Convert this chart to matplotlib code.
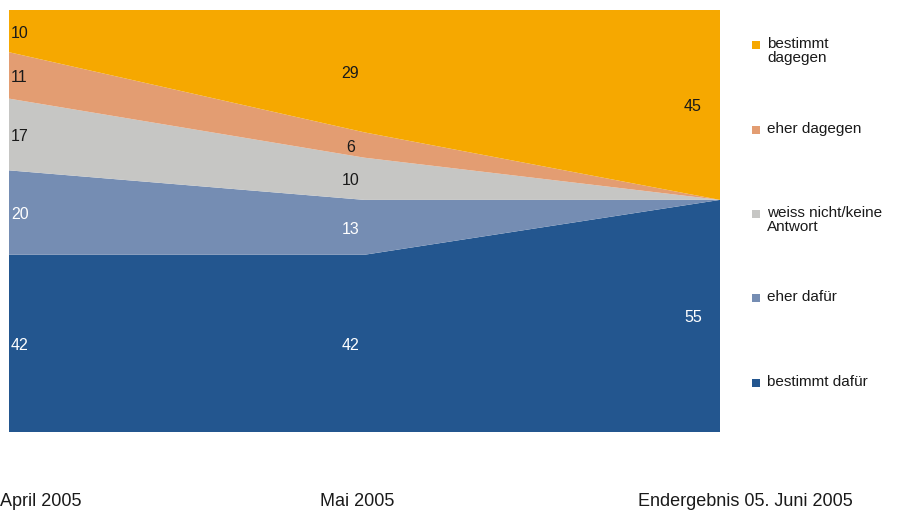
import matplotlib
matplotlib.use("Agg")
import matplotlib.pyplot as plt
from matplotlib.patches import Rectangle
import numpy as np

plt.rcParams['font.family'] = ['Liberation Sans', 'DejaVu Sans']

periods = ["April 2005", "Mai 2005", "Endergebnis 05. Juni 2005"]
series_names = ["bestimmt dafür", "eher dafür", "weiss nicht/keine\nAntwort", "eher dagegen", "bestimmt\ndagegen"]
bestimmt_dafuer = [42, 42, 55]
eher_dafuer = [20, 13, 0]
weiss_nicht = [17, 10, 0]
eher_dagegen = [11, 6, 0]
bestimmt_dagegen = [10, 29, 45]
colors = ["#23568F", "#758DB3", "#C6C6C4", "#E39D72", "#F6A800"]
text_colors = ["white", "white", "#1a1a1a", "#1a1a1a", "#1a1a1a"]

W, H = 904, 511
fig = plt.figure(figsize=(W / 100, H / 100), dpi=100)
ax = fig.add_axes([9 / W, 1 - 432 / H, (720 - 9) / W, (432 - 10) / H])

x = np.arange(len(periods))
data = [bestimmt_dafuer, eher_dafuer, weiss_nicht, eher_dagegen, bestimmt_dagegen]
ax.stackplot(x, *data, colors=colors, linewidth=0)
ax.set_xlim(0, 2)
ax.set_ylim(0, 100)
ax.axis("off")

# data labels
offsets = [(2, 'left'), (-14, 'center'), (-27, 'center')]
cum = np.zeros(len(periods))
for s, vals in enumerate(data):
    for i, v in enumerate(vals):
        if v > 0:
            dx, ha = offsets[i]
            ax.annotate(str(v), xy=(x[i], cum[i] + v / 2), xytext=(dx, -2),
                        textcoords='offset pixels', ha=ha, va='center',
                        fontsize=11.5, color=text_colors[s])
    cum += np.array(vals)

# x labels
label_pos = [(0, 'left'), (357, 'center'), (745, 'center')]
for (lx, ha), lab in zip(label_pos, periods):
    fig.text(lx / W, 1 - 501 / H, lab, ha=ha, va='center', fontsize=13, color='#1a1a1a')

# legend (top to bottom)
leg_y = [45, 130, 214, 298, 383]
order = [4, 3, 2, 1, 0]
for ly, s in zip(leg_y, order):
    fig.patches.append(Rectangle((752 / W, 1 - (ly + 4) / H), 8 / W, 8 / H,
                                 transform=fig.transFigure, facecolor=colors[s],
                                 edgecolor='none'))
    fig.text(767 / W, 1 - (ly - 8) / H, series_names[s], ha='left', va='top',
             fontsize=11, linespacing=1.0, color='#1a1a1a')

fig.savefig("out.png", dpi=100)
